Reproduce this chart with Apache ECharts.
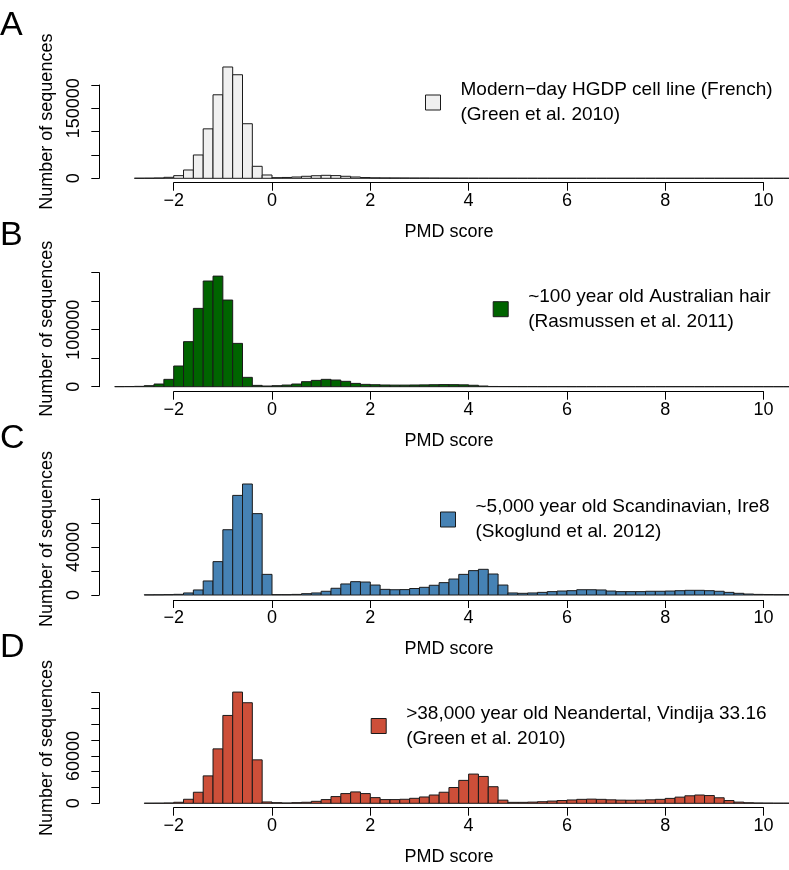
<!DOCTYPE html>
<html>
<head>
<meta charset="utf-8">
<script src="https://cdn.jsdelivr.net/npm/echarts@6/dist/echarts.min.js"></script>
<style>
html,body{margin:0;padding:0;background:#fff;}
#chart{width:789px;height:870px;}
</style>
</head>
<body>
<div id="chart"></div>
<script>
// ---- data ----
const binWidth = 0.2;
const binLeft = [-3.2,-3.0,-2.8,-2.6,-2.4,-2.2,-2.0,-1.8,-1.6,-1.4,-1.2,-1.0,-0.8,-0.6,-0.4,-0.2,0,0.2,0.4,0.6,0.8,1.0,1.2,1.4,1.6,1.8,2.0,2.2,2.4,2.6,2.8,3.0,3.2,3.4,3.6,3.8,4.0,4.2,4.4,4.6,4.8,5.0,5.2,5.4,5.6,5.8,6.0,6.2,6.4,6.6,6.8,7.0,7.2,7.4,7.6,7.8,8.0,8.2,8.4,8.6,8.8,9.0,9.2,9.4,9.6,9.8,10.0,10.2,10.4];

const countsA = [null,null,200,300,700,2100,5700,17800,50000,106000,
  179000,238600,222000,117000,25700,7100,1400,1800,2800,4300,
  5500,6400,5800,4300,2800,1600,1100,900,800,700,
  600,600,500,400,300,250,200,150,120,100,
  80,60,50,40,40,30,30,30,30,30,
  30,30,20,20,20,20,20,20,20,20,
  20,20,20,20,10,10,10,10,10];
const countsB = [200,300,600,1800,4700,12900,36300,79000,137400,185400,
  194000,152000,76000,16400,2300,1200,1800,2900,4700,8800,
  11100,12900,11700,9400,5800,4100,3500,3000,2800,2800,
  3000,3200,3500,3700,3600,3300,2500,1200,400,300,
  250,200,200,150,150,150,100,100,100,100,
  100,100,100,100,100,80,80,80,80,60,
  60,60,60,50,50,50,50,50,50];
const countsC = [null,null,null,150,200,300,550,1700,4200,11700,
  27800,54400,83000,92500,67800,17200,300,300,500,1100,
  1700,3100,5600,9200,11100,10800,8300,4700,4400,4500,
  5400,6400,8100,10300,13300,17200,20300,21400,17500,8300,
  1700,1400,1700,2200,2800,3300,3600,4400,4400,4200,
  3300,2800,2800,2800,3100,3100,3300,3600,3900,3900,
  3600,3100,2200,1400,800,500,400,300,300];
const countsD = [null,null,null,150,200,400,1300,5100,14000,34700,
  68900,111200,140800,127300,55000,1700,800,400,800,1300,
  2500,4700,8500,12300,14400,12300,7200,4700,4700,5100,
  6300,8000,10500,14000,20000,29000,37000,34000,21000,4000,
  1200,1200,1500,2000,2800,3500,4200,5000,5300,5000,
  4400,4000,3900,4000,4400,5000,6200,7800,9500,10500,
  9800,7000,3500,1500,700,400,300,200,200];

const xTicks = [-2, 10, 2];              // min, max, interval
const yMaxes = [200000, 200000, 80000, 140000];
const yIntervals = [50000, 50000, 20000, 20000];
const yShownLabels = [[0, 150000], [0, 100000], [0, 40000], [0, 60000]];
const panelLetters = ['A', 'B', 'C', 'D'];
const seriesNames = [
  'Modern\u2212day HGDP cell line (French)\n(Green et al. 2010)',
  '~100 year old Australian hair\n(Rasmussen et al. 2011)',
  '~5,000 year old Scandinavian, Ire8\n(Skoglund et al. 2012)',
  '>38,000 year old Neandertal, Vindija 33.16\n(Green et al. 2010)'
];
const allCounts = [countsA, countsB, countsC, countsD];

// ---- styling / layout ----
const FONT = '"Liberation Sans", Arial, Helvetica, sans-serif';
const colors = ['#f0f0f0', '#006400', '#4682b4', '#cd4f39'];
const gridTop = [85, 272.7, 499, 692.7];
const gridZero = [178.3, 386.7, 595, 803.3];
const xAxisOffset = [4.4, 5, 5, 4.4];
const yNamePad = [20, 2, 16, 0];
const legendPos = [[425, 70], [492.7, 276.7], [440, 487], [370.7, 693.5]];
const letterTop = [8.8, 218.5, 422, 630.5];
const GRID_LEFT = 173.7, GRID_RIGHT = 25.5, Y_AXIS_X = 99.3;

function fmtMinus(v) { return v < 0 ? '\u2212' + Math.abs(v) : String(v); }

const chart = echarts.init(document.getElementById('chart'), null, {renderer: 'canvas'});

const option = {
  animation: false,
  backgroundColor: '#ffffff',
  textStyle: {fontFamily: FONT, color: '#000'},
  title: [], grid: [], xAxis: [], yAxis: [], series: [], legend: []
};

for (let p = 0; p < 4; p++) {
  option.title.push({
    text: panelLetters[p], left: 0, top: letterTop[p], padding: 0,
    textStyle: {fontFamily: FONT, fontSize: 34, fontWeight: 'normal', color: '#000'}
  });
  option.grid.push({
    left: GRID_LEFT, right: GRID_RIGHT, top: gridTop[p], bottom: 870 - gridZero[p],
    containLabel: false
  });
  option.xAxis.push({
    type: 'value', gridIndex: p, min: xTicks[0], max: xTicks[1], interval: xTicks[2],
    position: 'bottom', offset: xAxisOffset[p],
    name: 'PMD score', nameLocation: 'middle', nameGap: 40,
    nameTextStyle: {fontFamily: FONT, fontSize: 18, color: '#000', padding: [0, 39, 0, 0]},
    axisLine: {show: true, onZero: false, lineStyle: {color: '#000', width: 1}},
    axisTick: {show: true, length: 8, lineStyle: {color: '#000', width: 1}},
    axisLabel: {fontFamily: FONT, fontSize: 18, color: '#000', margin: 9, formatter: fmtMinus},
    splitLine: {show: false}
  });
  const shown = yShownLabels[p];
  option.yAxis.push({
    type: 'value', gridIndex: p, min: 0, max: yMaxes[p], interval: yIntervals[p],
    position: 'left', offset: GRID_LEFT - Y_AXIS_X,
    name: 'Number of sequences', nameLocation: 'middle', nameGap: 43.5,
    nameTextStyle: {fontFamily: FONT, fontSize: 18, color: '#000', padding: [0, 0, 0, yNamePad[p]]},
    axisLine: {show: true, onZero: false, lineStyle: {color: '#000', width: 1}},
    axisTick: {show: true, length: 8, lineStyle: {color: '#000', width: 1}},
    axisLabel: {
      fontFamily: FONT, fontSize: 18, color: '#000', rotate: 90, margin: 16,
      showMinLabel: true, showMaxLabel: true,
      formatter: function (v) { return shown.indexOf(v) >= 0 ? String(v) : ''; }
    },
    splitLine: {show: false}
  });
  const counts = allCounts[p];
  const data = [];
  for (let i = 0; i < binLeft.length; i++) {
    if (counts[i] === null || counts[i] === undefined) continue;
    data.push([binLeft[i], +(binLeft[i] + binWidth).toFixed(2), counts[i]]);
  }
  const col = colors[p];
  option.series.push({
    type: 'custom', name: seriesNames[p], xAxisIndex: p, yAxisIndex: p,
    clip: false,
    itemStyle: {color: col, borderColor: '#1a1a1a', borderWidth: 1},
    encode: {x: [0, 1], y: 2},
    data: data,
    renderItem: function (params, api) {
      const a = api.coord([api.value(0), api.value(2)]);
      const b = api.coord([api.value(1), 0]);
      return {
        type: 'rect',
        shape: {x: a[0], y: a[1], width: b[0] - a[0], height: b[1] - a[1]},
        style: {fill: col, stroke: '#1a1a1a', lineWidth: 1}
      };
    }
  });
  option.legend.push({
    data: [seriesNames[p]], left: legendPos[p][0], top: legendPos[p][1],
    padding: 0, orient: 'vertical', selectedMode: false,
    icon: 'rect', itemWidth: 15, itemHeight: 15,
    itemStyle: {color: col, borderColor: '#1a1a1a', borderWidth: 1},
    textStyle: {fontFamily: FONT, fontSize: 19, color: '#000', lineHeight: 25, padding: [15, 0, 0, 15]}
  });
}

chart.setOption(option);
</script>
</body>
</html>
